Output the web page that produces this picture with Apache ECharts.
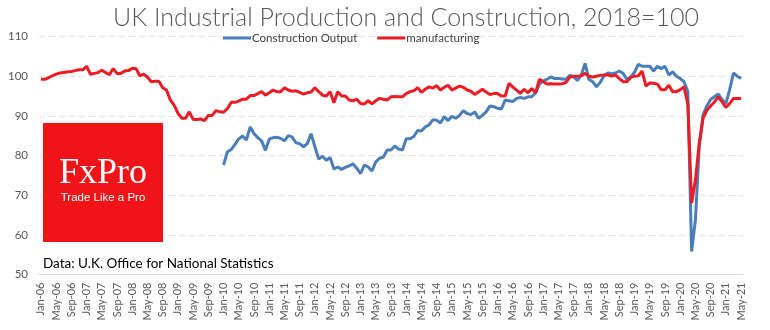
<!DOCTYPE html>
<html>
<head>
<meta charset="utf-8">
<script src="https://cdn.jsdelivr.net/npm/echarts@6/dist/echarts.min.js"></script>
<style>
html,body{margin:0;padding:0;background:#fff;}
#chart{width:770px;height:330px;}
</style>
</head>
<body>
<div id="chart"></div>
<script>
// ---- Data ----
const monthNames = ["Jan","Feb","Mar","Apr","May","Jun","Jul","Aug","Sep","Oct","Nov","Dec"];
const startYear = 2006, endYear = 2021, endMonth = 5; // Jan-06 .. May-21
const categories = [];
for (let y = startYear; y <= endYear; y++) {
  for (let m = 0; m < 12; m++) {
    if (y === endYear && m >= endMonth) break;
    categories.push(monthNames[m] + "-" + String(y).slice(2));
  }
}

const manufacturing = [
  99.2, 99.2, 99.6, 100.1, 100.5, 100.8, 100.9, 101.1, 101.2, 101.4, 101.6, 101.6,
  102.5, 100.5, 100.7, 100.9, 101.5, 100.9, 100.4, 101.9, 100.7, 100.7, 101.3, 101.4,
  102.0, 101.9, 100.1, 100.5, 99.8, 98.6, 98.7, 98.7, 97.1, 96.5, 94.0, 92.7,
  90.7, 89.4, 89.4, 91.0, 89.1, 89.1, 89.2, 88.8, 90.1, 90.1, 91.3, 91.0,
  90.9, 91.8, 93.4, 93.4, 93.7, 94.2, 94.2, 95.1, 95.1, 95.6, 96.1, 95.2,
  95.8, 96.5, 96.1, 96.1, 97.1, 96.5, 96.2, 96.3, 95.9, 95.5, 95.8, 96.0,
  97.1, 96.1, 95.2, 95.0, 96.1, 93.3, 96.1, 95.0, 95.0, 94.0, 93.8, 94.2,
  93.1, 93.0, 93.8, 93.0, 93.8, 94.4, 94.2, 94.0, 94.8, 94.9, 94.8, 94.8,
  95.6, 96.1, 96.3, 97.1, 95.9, 96.7, 97.3, 97.0, 97.6, 96.5, 97.2, 97.7,
  96.5, 97.0, 97.5, 97.2, 96.5, 96.2, 95.4, 96.0, 96.7, 96.0, 95.4, 95.6,
  95.6, 95.0, 95.0, 98.2, 97.3, 96.5, 95.7, 96.7, 95.8, 96.9, 95.8, 99.2,
  98.6, 98.0, 98.1, 98.0, 98.0, 98.1, 98.4, 99.8, 100.0, 100.0, 100.1, 100.7,
  100.0, 99.8, 100.0, 100.2, 100.3, 100.3, 100.0, 100.3, 99.4, 98.6, 98.6, 99.7,
  100.0, 100.1, 101.3, 97.5, 98.3, 98.2, 98.0, 96.6, 96.6, 97.7, 96.1, 96.1,
  96.6, 97.3, 93.0, 68.0, 73.8, 83.1, 89.4, 91.4, 92.5, 93.5, 94.8, 93.5,
  92.1, 93.1, 94.4, 94.4, 94.4
];

const construction = [
  null, null, null, null, null, null, null, null, null, null, null, null,
  null, null, null, null, null, null, null, null, null, null, null, null,
  null, null, null, null, null, null, null, null, null, null, null, null,
  null, null, null, null, null, null, null, null, null, null, null, null,
  77.6, 80.9, 81.5, 82.8, 84.2, 84.9, 83.9, 87.2, 85.5, 84.5, 83.7, 81.3,
  84.1, 84.5, 84.6, 84.3, 83.7, 85.0, 84.7, 83.2, 83.0, 82.2, 83.0, 85.5,
  82.2, 79.1, 79.8, 78.8, 79.5, 76.6, 77.1, 76.5, 77.0, 77.4, 77.9, 76.8,
  75.4, 77.6, 77.1, 76.1, 78.4, 79.3, 79.6, 81.4, 81.4, 82.4, 81.6, 81.4,
  84.2, 84.2, 84.8, 86.3, 86.2, 87.2, 87.7, 89.0, 88.9, 88.2, 89.8, 88.8,
  89.9, 89.4, 90.1, 91.3, 90.6, 90.3, 91.0, 89.4, 90.1, 91.0, 92.5, 92.3,
  91.9, 91.7, 94.0, 93.8, 93.6, 94.4, 94.6, 94.4, 94.8, 94.8, 95.8, 98.0,
  98.8, 99.2, 99.8, 99.4, 99.4, 99.3, 99.2, 100.2, 99.8, 98.9, 100.3, 103.2,
  99.2, 98.6, 97.3, 98.5, 100.1, 100.8, 100.6, 100.8, 101.3, 100.7, 99.2, 99.8,
  101.0, 103.0, 102.5, 102.5, 102.5, 101.3, 102.5, 101.9, 102.5, 100.3, 101.1, 100.0,
  99.4, 98.6, 96.1, 55.8, 63.8, 82.2, 90.2, 92.5, 94.1, 94.8, 95.5, 94.1,
  93.1, 96.6, 100.8, 100.0, 99.4
];

const yTicks = { min: 50, max: 110, interval: 10 };
const titleText = "UK Industrial Production and Construction, 2018=100";
const sourceText = "Data: U.K. Office for National Statistics";

// ---- Chart ----
const chart = echarts.init(document.getElementById('chart'), null, { renderer: 'canvas' });
chart.setOption({
  animation: false,
  backgroundColor: '#ffffff',
  title: {
    text: titleText,
    left: 401,
    top: 0,
    textAlign: 'center',
    textStyle: { fontFamily: 'Lato', fontWeight: 300, fontSize: 25, color: '#595959' }
  },
  legend: {
    left: 218,
    top: 27,
    itemWidth: 28,
    itemHeight: 3,
    itemGap: 20,
    icon: 'rect',
    textStyle: { fontFamily: 'Lato', fontSize: 11.5, color: '#404040', padding: [0, 0, 0, -4] },
    data: ['Construction Output', 'manufacturing']
  },
  grid: { left: 39, right: 27, top: 36.5, bottom: 55.5, containLabel: false },
  xAxis: {
    type: 'category',
    data: categories,
    boundaryGap: true,
    axisLine: { show: true, lineStyle: { color: '#d9d9d9', width: 1 } },
    axisTick: { show: false },
    axisLabel: {
      interval: 3,
      rotate: 90,
      margin: 8,
      fontFamily: 'Lato',
      fontSize: 11,
      color: '#595959'
    },
    splitLine: { show: false }
  },
  yAxis: {
    type: 'value',
    min: yTicks.min,
    max: yTicks.max,
    interval: yTicks.interval,
    axisLine: { show: false },
    axisTick: { show: false },
    axisLabel: { margin: 11, fontFamily: 'Lato', fontSize: 11.5, color: '#595959' },
    splitLine: { show: true, lineStyle: { color: '#e3e3e3', type: [6, 4], width: 1 } }
  },
  series: [
    {
      name: 'Construction Output',
      type: 'line',
      data: construction,
      showSymbol: false,
      symbol: 'none',
      connectNulls: false,
      lineStyle: { color: '#4a7ebb', width: 3 },
      itemStyle: { color: '#4a7ebb' },
      z: 2
    },
    {
      name: 'manufacturing',
      type: 'line',
      data: manufacturing,
      showSymbol: false,
      symbol: 'none',
      lineStyle: { color: '#ed1c24', width: 3 },
      itemStyle: { color: '#ed1c24' },
      z: 3
    }
  ],
  graphic: [
    {
      type: 'rect',
      z: 100,
      shape: { x: 43, y: 123, width: 120, height: 119 },
      style: { fill: '#f01418' }
    },
    {
      type: 'text',
      z: 101,
      x: 103,
      y: 174,
      style: {
        text: 'FxPro',
        align: 'center',
        verticalAlign: 'middle',
        font: '36px "Liberation Serif"',
        fill: '#ffffff'
      }
    },
    {
      type: 'text',
      z: 101,
      x: 103,
      y: 198,
      style: {
        text: 'Trade Like a Pro',
        align: 'center',
        verticalAlign: 'middle',
        font: '11.5px "Liberation Sans"',
        fill: '#ffffff'
      }
    },
    {
      type: 'text',
      z: 101,
      x: 43,
      y: 264,
      style: {
        text: sourceText,
        align: 'left',
        verticalAlign: 'middle',
        font: '13.5px Lato',
        fill: '#000000'
      }
    }
  ]
});
</script>
</body>
</html>
